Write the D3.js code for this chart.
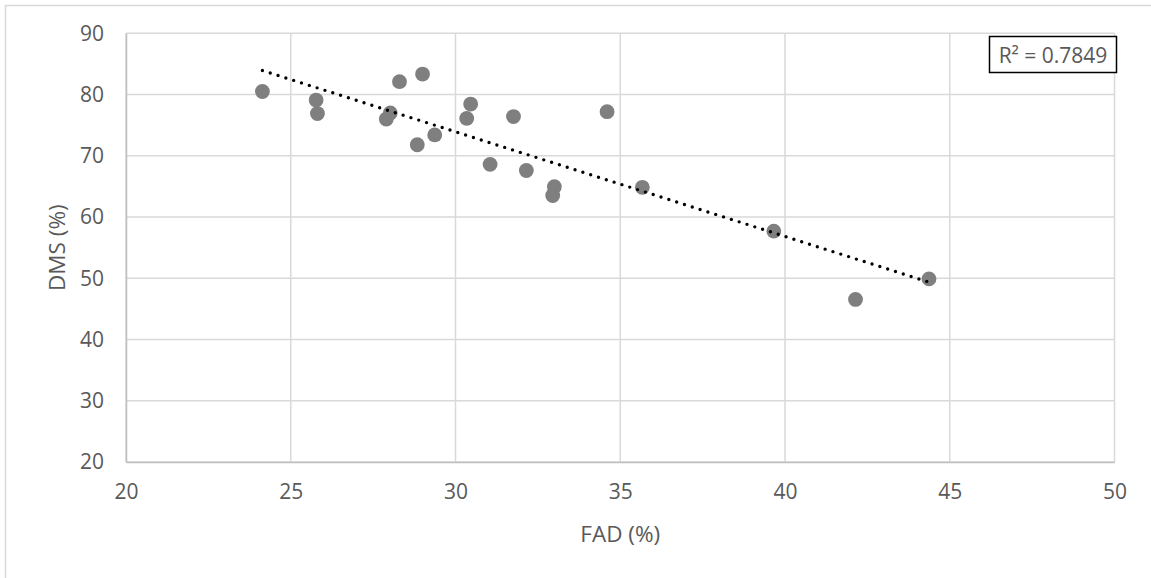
<!DOCTYPE html>
<html><head><meta charset="utf-8">
<script src="https://cdn.jsdelivr.net/npm/d3@7"></script>
<style>body{margin:0;background:#fff}svg{display:block}</style>
</head><body>
<script>
const fad = [24.14, 25.77, 25.81, 28.30, 29.00, 28.02, 27.90, 28.84, 29.37, 30.46, 30.34, 31.76, 31.05, 32.15, 33.00, 32.95, 35.67, 34.60, 39.66, 44.37, 42.14];
const dms = [80.5, 79.1, 76.9, 82.1, 83.35, 77.0, 76.0, 71.8, 73.4, 78.45, 76.1, 76.4, 68.6, 67.6, 64.95, 63.5, 64.85, 77.2, 57.7, 49.9, 46.55];
const xTicks = [20, 25, 30, 35, 40, 45, 50];
const yTicks = [20, 30, 40, 50, 60, 70, 80, 90];
const xTitle = "FAD (%)";
const yTitle = "DMS (%)";
const r2Label = "R² = 0.7849";

const W = 1151, H = 578;
const svg = d3.select("body").append("svg").attr("width", W).attr("height", H);
const font = "'Open Sans', sans-serif";

// outer chart border
svg.append("rect").attr("x", 5.5).attr("y", 5.5).attr("width", 1300).attr("height", 800)
  .attr("fill", "none").attr("stroke", "#d9d9d9").attr("stroke-width", 1.5);

const x = d3.scaleLinear().domain([20, 50]).range([126, 1114.5]);
const y = d3.scaleLinear().domain([20, 90]).range([462, 33.3]);

// gridlines
svg.append("g").selectAll("line").data(yTicks).join("line")
  .attr("x1", x(20)).attr("x2", x(50)).attr("y1", d => y(d)).attr("y2", d => y(d))
  .attr("stroke", "#d9d9d9").attr("stroke-width", 1.5);
svg.append("g").selectAll("line").data(xTicks).join("line")
  .attr("y1", y(20)).attr("y2", y(90)).attr("x1", d => x(d)).attr("x2", d => x(d))
  .attr("stroke", "#d9d9d9").attr("stroke-width", 1.5);

// axes
const xAxis = svg.append("g").attr("transform", `translate(0,${y(20)})`)
  .call(d3.axisBottom(x).tickValues(xTicks).tickSize(0).tickPadding(22));
const yAxis = svg.append("g").attr("transform", `translate(${x(20)},0)`)
  .call(d3.axisLeft(y).tickValues(yTicks).tickSize(0).tickPadding(22));
[xAxis, yAxis].forEach(g => {
  g.select(".domain").attr("stroke", "#bfbfbf").attr("stroke-width", 1.5);
  g.selectAll("text").attr("font-family", font).attr("font-size", 21).attr("fill", "#595959");
});

// points
svg.append("g").selectAll("circle").data(fad.map((v, i) => [v, dms[i]])).join("circle")
  .attr("cx", d => x(d[0])).attr("cy", d => y(d[1])).attr("r", 7.4).attr("fill", "#7f7f7f");

// linear trendline (least squares)
const n = fad.length;
const mx = d3.mean(fad), my = d3.mean(dms);
let sxy = 0, sxx = 0;
for (let i = 0; i < n; i++) { sxy += (fad[i] - mx) * (dms[i] - my); sxx += (fad[i] - mx) ** 2; }
const b = sxy / sxx, a = my - b * mx;
const [x0, x1] = d3.extent(fad);
svg.append("line").attr("x1", x(x0)).attr("y1", y(a + b * x0)).attr("x2", x(x1)).attr("y2", y(a + b * x1))
  .attr("stroke", "#000").attr("stroke-width", 3.4).attr("stroke-linecap", "round")
  .attr("stroke-dasharray", "0 8.2");

// R² box
svg.append("rect").attr("x", 989.5).attr("y", 36.5).attr("width", 127).attr("height", 36)
  .attr("fill", "#fff").attr("stroke", "#000").attr("stroke-width", 1.5);
svg.append("text").attr("x", 1053).attr("y", 55).attr("text-anchor", "middle").attr("dominant-baseline", "central")
  .attr("font-family", font).attr("font-size", 21).attr("fill", "#595959").text(r2Label);

// axis titles
svg.append("text").attr("x", (x(20) + x(50)) / 2).attr("y", 533).attr("text-anchor", "middle")
  .attr("dominant-baseline", "central").attr("font-family", font).attr("font-size", 22.5).attr("fill", "#595959").text(xTitle);
svg.append("text").attr("transform", `translate(56,${(y(20) + y(90)) / 2}) rotate(-90)`).attr("text-anchor", "middle")
  .attr("dominant-baseline", "central").attr("font-family", font).attr("font-size", 22.5).attr("fill", "#595959").text(yTitle);
</script>
</body></html>
